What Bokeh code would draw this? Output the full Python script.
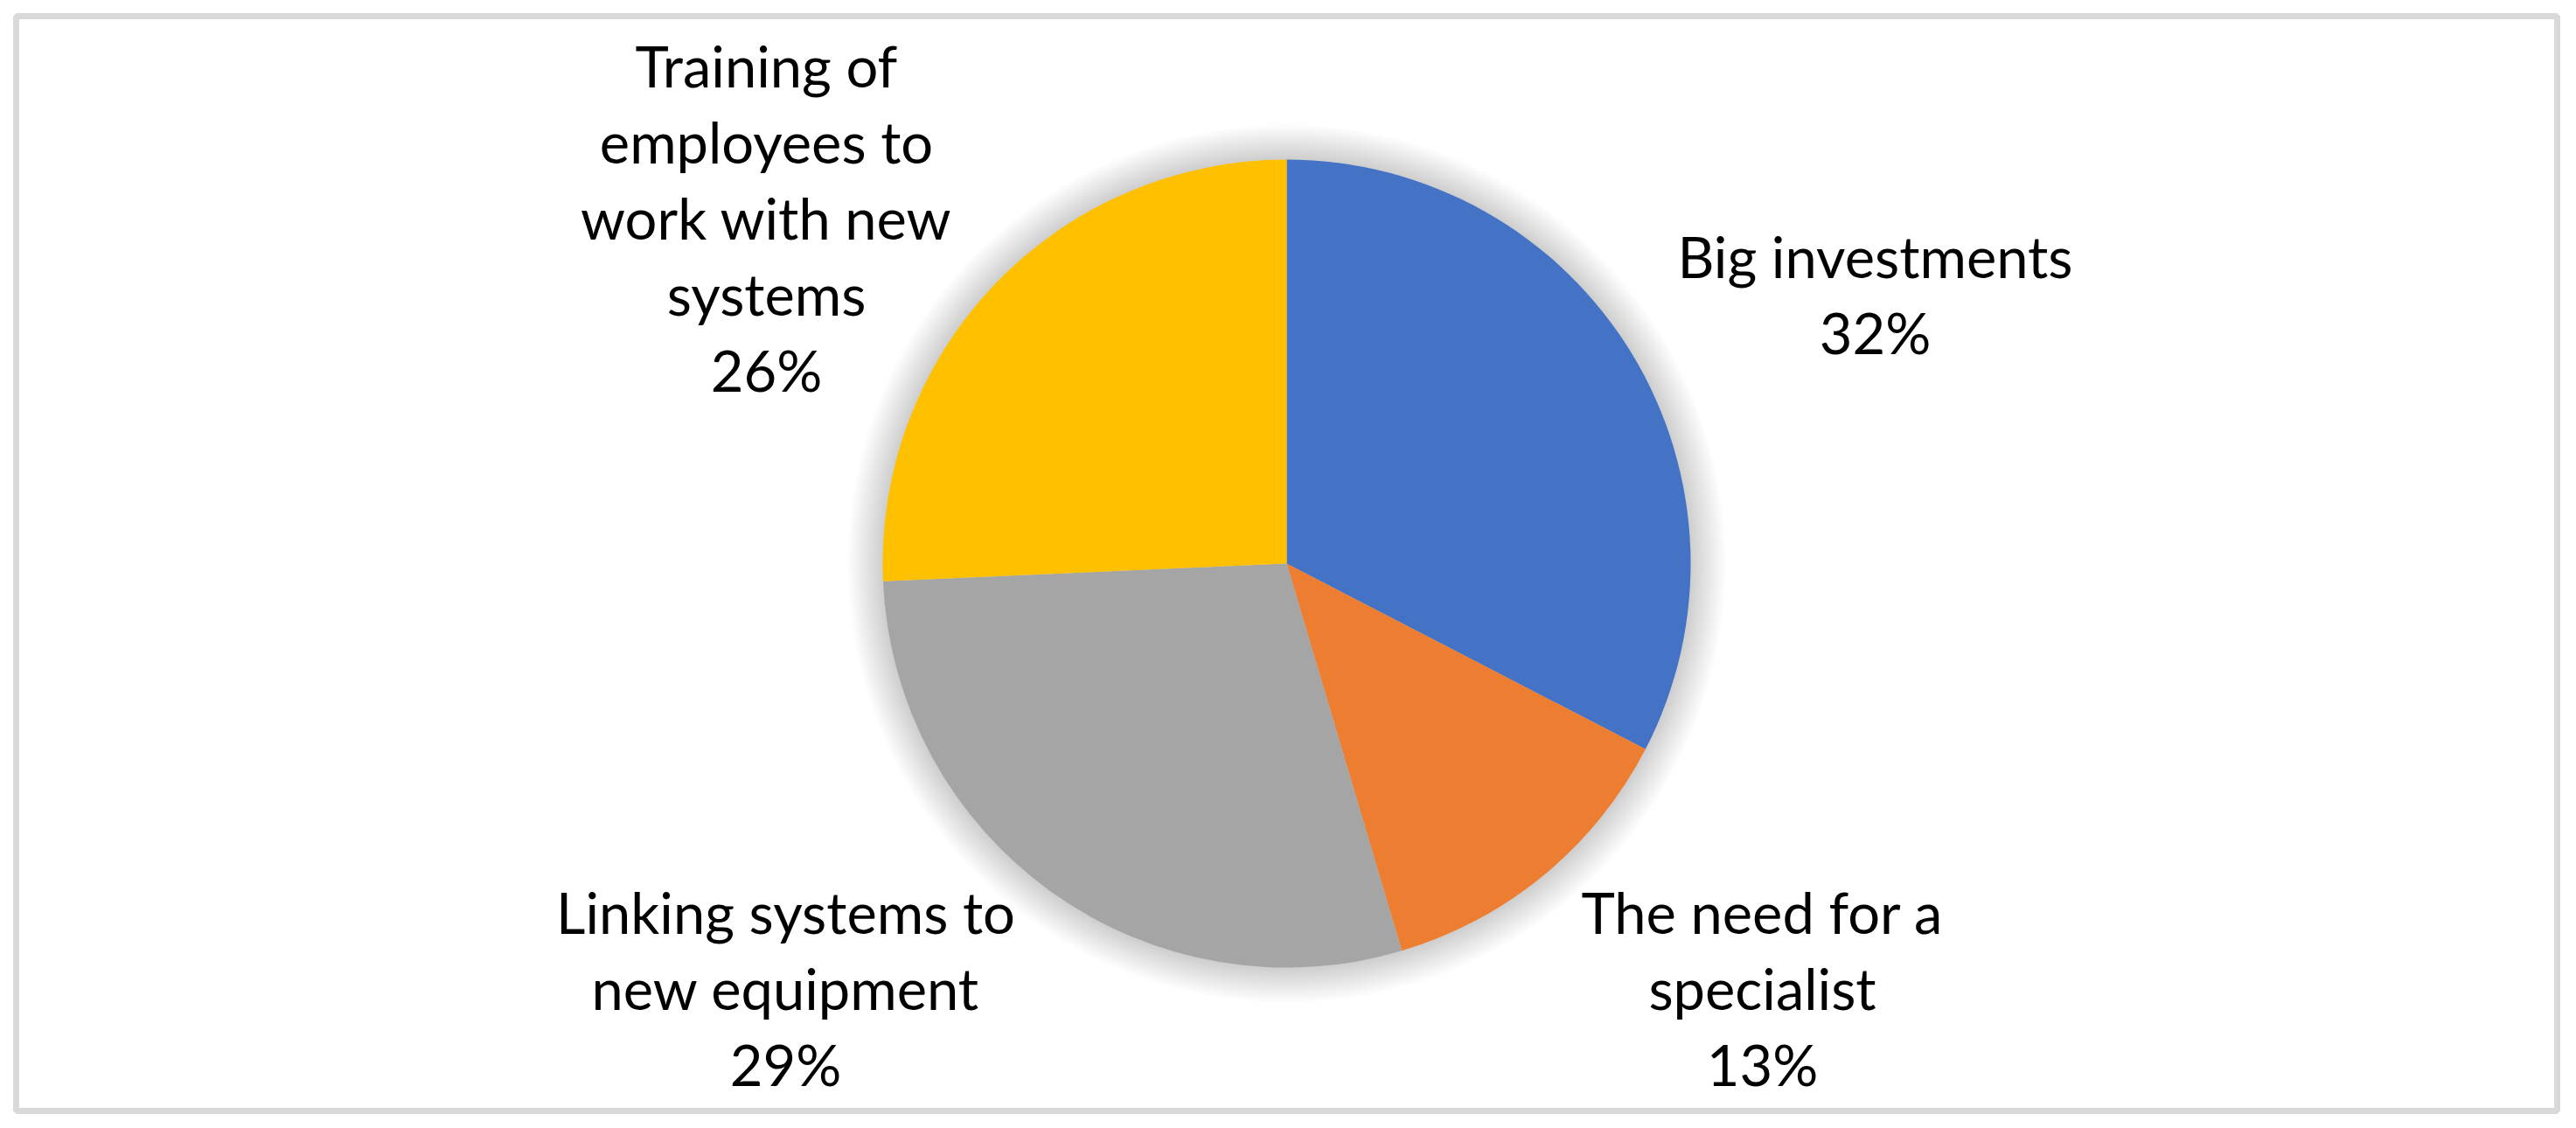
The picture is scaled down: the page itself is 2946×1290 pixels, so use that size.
from bokeh.plotting import figure
from bokeh.models import Range1d, ColumnDataSource
from bokeh.core.properties import value
from bokeh.embed import file_html
from bokeh.resources import INLINE
import math

# ---- data ----
categories = ["Big investments", "The need for a specialist",
              "Linking systems to new equipment",
              "Training of employees to work with new systems"]
values = [32.6, 12.8, 28.9, 25.7]
pct_labels = ["32%", "13%", "29%", "26%"]
label_lines = [["Big investments"],
               ["The need for a", "specialist"],
               ["Linking systems to", "new equipment"],
               ["Training of", "employees to", "work with new", "systems"]]
colors = ["#4472C4", "#ED7D31", "#A5A5A5", "#FFC000"]

# ---- layout (frame px == data units) ----
FW, FH = 2906, 1252
p = figure(width=2938, height=1282, x_range=Range1d(0, FW), y_range=Range1d(0, FH),
           output_backend="svg", toolbar_location=None,
           x_axis_location=None, y_axis_location=None,
           min_border_left=18, min_border_right=14, min_border_top=18, min_border_bottom=12)
p.grid.visible = False
p.outline_line_color = "#d9d9d9"
p.outline_line_width = 7
p.background_fill_color = "white"
p.border_fill_color = "white"

cx, cy, R = 1453, 626, 462

# soft shadow around the pie
n_sh = 16
sh = ColumnDataSource(dict(x=[cx] * n_sh, y=[cy] * n_sh,
                           r=[R + 2.5 * (i + 1) for i in range(n_sh)]))
p.circle("x", "y", radius="r", source=sh, fill_color="black", fill_alpha=0.011,
         line_color=None)

total = sum(values)
starts, ends = [], []
acc = 0.0
for v in values:
    starts.append(math.radians(90 - acc / total * 360))
    acc += v
    ends.append(math.radians(90 - acc / total * 360))

src = ColumnDataSource(dict(start=starts, end=ends, color=colors, cat=categories))
p.wedge(x=cx, y=cy, radius=R, start_angle="start", end_angle="end",
        direction="clock", fill_color="color", line_color=None, source=src)

# labels: anchor = (center x, first line) in frame coords
anchors = [(2126, 978), (1997, 228), (880, 228), (858, 1196)]
LS = 87
xs, ys, ts = [], [], []
for (ax, ay), lines, pct in zip(anchors, label_lines, pct_labels):
    for i, t in enumerate(lines + [pct]):
        xs.append(ax)
        ys.append(ay - i * LS)
        ts.append(t)
p.text(x=xs, y=ys, text=ts, text_font=value("Lato"), text_font_size="65px",
       text_align="center", text_baseline="alphabetic", text_color="#000000")

open("out.html", "w").write(file_html(p, INLINE))
